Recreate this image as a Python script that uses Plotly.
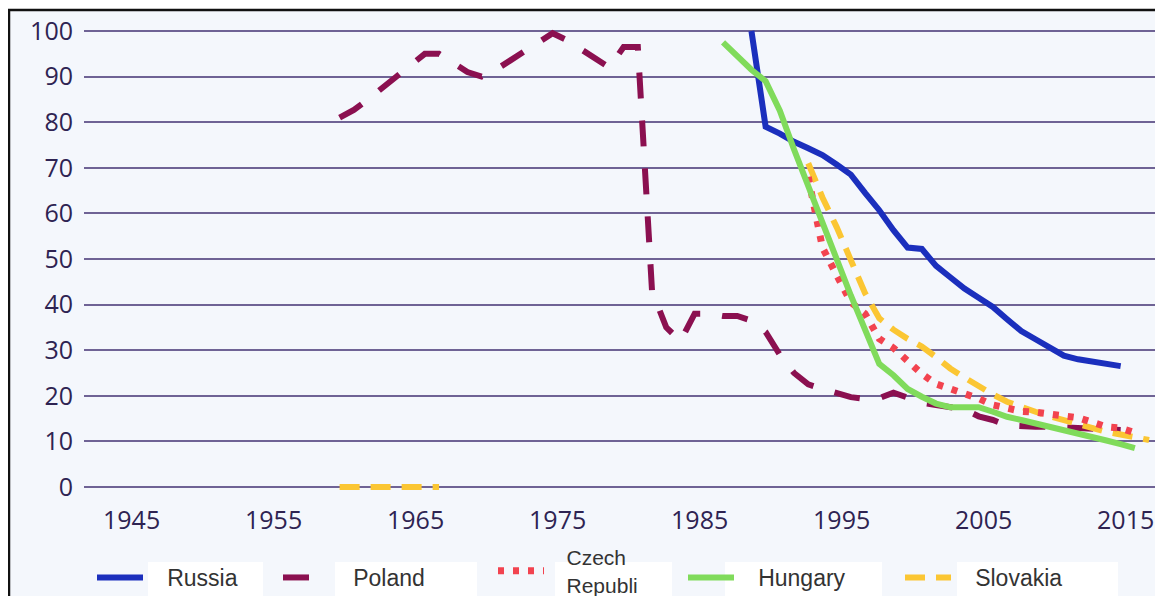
import plotly.graph_objects as go

# ---------------- data ----------------
russia_years = list(range(1989, 2016))
russia = [100, 79, 77.5, 75.7, 74.3, 72.8, 70.7, 68.5, 64.5, 60.7, 56.3, 52.5, 52.2,
          48.5, 46, 43.5, 41.5, 39.5, 36.8, 34.2, 32.4, 30.5, 28.8, 28, 27.4, 27, 26.5]

poland_years = list(range(1960, 2016))
poland = [81, 82.7, 85, 87.5, 90, 92.5, 95, 95, 93, 91,
          90, 91.5, 93.5, 95.5, 97.5, 99.5, 98, 96, 94, 92,
          96.5, 96.5, 43, 35, 32, 38, 38, 37.5, 37.5, 36.5,
          34, 29, 25, 22.5, 21.5, 20.5, 19.7, 19.3, 19.5, 20.7,
          19.7, 18.5, 18, 17.5, 17, 15.5, 14.7, 13.5, 13.2, 13.2,
          13.2, 13, 12.8, 12.6, 12.5, 12.5]

czech_years = list(range(1993, 2017))
czech = [68, 52.5, 46.5, 40.5, 38, 32.5, 30.5, 27.4, 24.8, 22.6, 21.6, 20.7,
         19.4, 18, 17.3, 16.6, 16.4, 16, 15.6, 15.2, 14.2, 13.2, 12.9, 11.9]

hungary_years = list(range(1987, 2017))
hungary = [97.5, 94.3, 91.5, 89, 82.5, 74, 66, 58, 49.5, 42, 34.5, 27, 24.5, 21.5,
           19.8, 18.3, 17.5, 17.5, 17.5, 16.5, 15.4, 14.7, 14, 13.3, 12.6, 11.8,
           11, 10.2, 9.4, 8.5]

slovakia_years_early = [1960, 1961, 1962, 1963, 1964, 1965, 1966, 1967]
slovakia_early = [0, 0, 0, 0, 0, 0, 0, 0]
slovakia_years_late = list(range(1993, 2018))
slovakia_late = [71, 63.5, 57, 50, 42.5, 37, 34.5, 32.5, 30.8, 28.5, 26, 24, 22,
                 20.3, 18.7, 17.5, 16.5, 15.5, 14.6, 13.8, 12.8, 12.1, 11.5, 10.9, 10.3]

x_ticks = [1945, 1955, 1965, 1975, 1985, 1995, 2005, 2015]
y_ticks = [0, 10, 20, 30, 40, 50, 60, 70, 80, 90, 100]

# ---------------- layout geometry ----------------
# Positions below are page pixels of the 1163x596 window; the page body has an
# 8px default margin, so the figure itself starts at (8, 8).
OFF = 8
FW, FH = 1155, 640
PLOT_L, PLOT_R, PLOT_T, PLOT_B = 84, 1160, 20, 500
NBSP = "\u00a0\u00a0\u00a0"


def px_x(px):
    return (px - OFF) / FW


def px_y(py):
    return 1 - (py - OFF) / FH


fig = go.Figure()

fig.add_trace(go.Scatter(
    x=poland_years, y=poland, name=NBSP + "Poland", mode="lines", legend="legend2",
    line=dict(color="#8b1050", width=6, dash="26px,22px")))

fig.add_trace(go.Scatter(
    x=russia_years, y=russia, name=NBSP + "Russia", mode="lines", legend="legend",
    line=dict(color="#1b2fbd", width=6)))

fig.add_trace(go.Scatter(
    x=slovakia_years_early + [None] + slovakia_years_late,
    y=slovakia_early + [None] + slovakia_late,
    name=NBSP + "Slovakia", mode="lines", legend="legend5", connectgaps=False,
    line=dict(color="#fbc633", width=6, dash="20px,11px")))

fig.add_trace(go.Scatter(
    x=czech_years, y=czech, name=NBSP + "Czech<br>" + NBSP + "Republi",
    mode="lines", legend="legend3",
    line=dict(color="#f2434f", width=7, dash="6px,9px")))

fig.add_trace(go.Scatter(
    x=hungary_years, y=hungary, name=NBSP + "Hungary", mode="lines", legend="legend4",
    line=dict(color="#80db5b", width=6)))

shapes = [
    # outer frame
    dict(type="rect", xref="paper", yref="paper", layer="below",
         x0=px_x(9), x1=px_x(1220), y0=px_y(700), y1=px_y(10),
         fillcolor="#f4f7fc", line=dict(color="#111111", width=2.5)),
]
# white boxes behind legend labels
for a, b in [(148, 263), (335, 477), (555, 672), (725, 882), (957, 1118)]:
    shapes.append(dict(type="rect", xref="paper", yref="paper", layer="below",
                       x0=px_x(a), x1=px_x(b), y0=px_y(700), y1=px_y(562),
                       fillcolor="#ffffff", line=dict(width=0)))

tick_font = dict(family="Open Sans", size=25, color="#2e2352")


def legend_box(x_px, top_px, size=23):
    return dict(orientation="h", x=px_x(x_px), xanchor="left",
                y=px_y(top_px), yanchor="top",
                bgcolor="rgba(0,0,0,0)", borderwidth=0,
                font=dict(family="Liberation Sans", size=size, color="#333333"),
                itemwidth=46)


fig.update_layout(
    width=FW, height=FH, autosize=False,
    margin=dict(l=0, r=0, t=0, b=0, pad=0),
    paper_bgcolor="#ffffff",
    plot_bgcolor="#f4f7fc",
    shapes=shapes,
    showlegend=True,
    legend=legend_box(92, 556),
    legend2=legend_box(278, 556),
    legend3=legend_box(493, 537, 21),
    legend4=legend_box(683, 556),
    legend5=legend_box(900, 556),
    xaxis=dict(domain=[px_x(PLOT_L), px_x(PLOT_R)], range=[1942, 2017.77],
               tickvals=x_ticks, ticktext=[str(v) for v in x_ticks],
               showgrid=False, zeroline=False, showline=False, ticks="",
               automargin=False,
               tickfont=tick_font, ticklabelshift=5, ticklabelstandoff=3),
    yaxis=dict(domain=[px_y(PLOT_B), px_y(PLOT_T)], range=[-2.85, 102.41],
               tickvals=y_ticks,
               showgrid=True, gridcolor="#6f6395", gridwidth=1.8,
               zeroline=True, zerolinecolor="#6f6395", zerolinewidth=1.8,
               showline=False, ticks="", tickfont=tick_font, automargin=False,
               ticklabelstandoff=10),
)

fig.write_html("out.html")
